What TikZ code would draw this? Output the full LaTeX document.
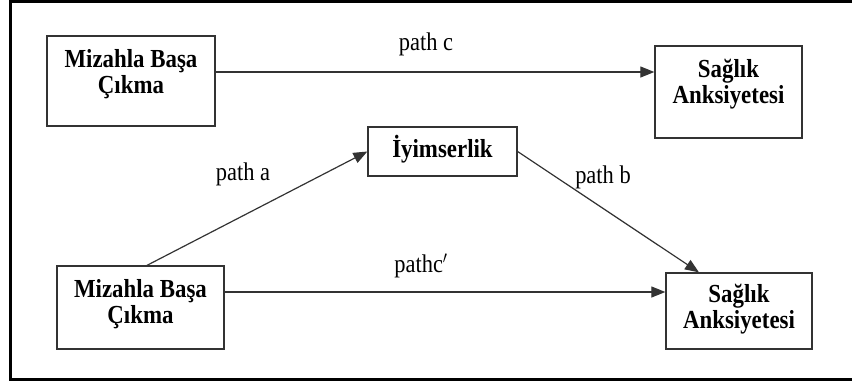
\documentclass[tikz,border=0pt]{standalone}
\usepackage{fontspec}
\setmainfont{Liberation Serif}
\usetikzlibrary{arrows.meta,calc}
\newcommand{\narrowtxt}[1]{\scalebox{0.88}[1]{\begin{tabular}{@{}c@{}}#1\end{tabular}}}
\begin{document}
\begin{tikzpicture}[x=1pt,y=-1pt,
  box/.style={draw=black!80,line width=1.3pt,inner sep=0pt},
  boxtext/.style={font=\fontsize{26}{26}\selectfont\bfseries,inner sep=0pt},
  lbl/.style={font=\fontsize{25.5}{26}\selectfont,inner sep=0pt},
  arr/.style={draw=black!80,line width=1.2pt,-{Triangle[length=14pt,width=11pt]}}]
\useasboundingbox (0,0) rectangle (852,381);
\clip (0,0) rectangle (852,381);
\draw[line width=2.8pt] (870,1.3) -- (10.7,1.3) -- (10.7,379.8) -- (870,379.8);
% boxes
\node[box,minimum width=168pt,minimum height=90pt] (m1) at (131,81) {};
\node[box,minimum width=147pt,minimum height=92pt] (s1) at (728.5,92) {};
\node[box,minimum width=149pt,minimum height=49pt] (iy) at (442.5,151.5) {};
\node[box,minimum width=167pt,minimum height=83pt] (m2) at (140.5,307.5) {};
\node[box,minimum width=146pt,minimum height=76pt] (s2) at (739,311) {};
% texts
\node[boxtext] (m1t) at ($(m1.center)+(0,-6)$) {\narrowtxt{Mizahla Başa\\Çıkma}};
\node[boxtext] (s1t) at ($(s1.center)+(0,-7)$) {\narrowtxt{Sağlık\\Anksiyetesi}};
\node[boxtext] (iyt) at ($(iy.center)+(0,-1)$) {\narrowtxt{İyimserlik}};
\node[boxtext] (m2t) at ($(m2.center)+(0,-2)$) {\narrowtxt{Mizahla Başa\\Çıkma}};
\node[boxtext] (s2t) at ($(s2.center)+(0,-1)$) {\narrowtxt{Sağlık\\Anksiyetesi}};
% connectors
\draw[arr] ($(m1.east)+(0,-9)$) -- ($(s1.west)+(0,-20)$);
\draw[arr] ($(m2.north)+(6.5,0)$) -- (iy.west);
\draw[arr] (iy.east) -- ($(s2.north)+(-40,0)$);
\draw[arr] ($(m2.east)+(0,-15.5)$) -- ($(s2.west)+(0,-19)$);
% labels
\node[lbl] (lc) at (426,45) {\narrowtxt{path c}};
\node[lbl] (la) at (243,175) {\narrowtxt{path a}};
\node[lbl] (lb) at (603,178) {\narrowtxt{path b}};
\node[lbl] (lcp) at (421,267) {\narrowtxt{pathc$'$}};
\end{tikzpicture}
\end{document}
